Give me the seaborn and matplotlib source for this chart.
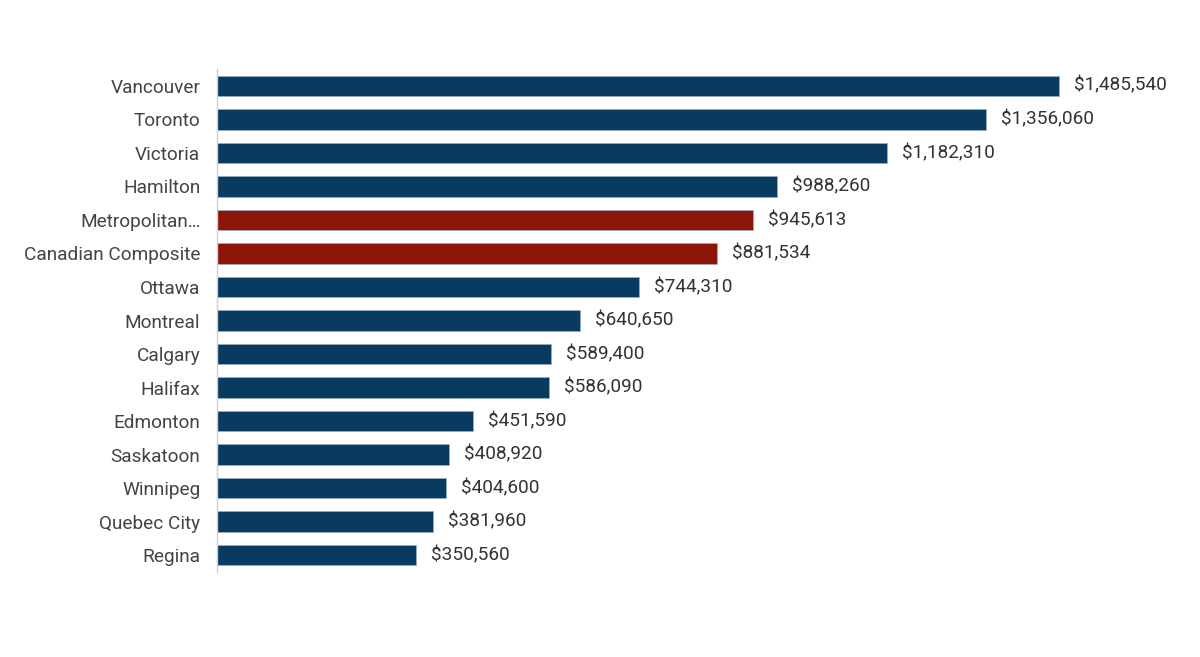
import matplotlib
matplotlib.use("Agg")
import matplotlib.pyplot as plt
import seaborn as sns
import pandas as pd

cities = ["Vancouver", "Toronto", "Victoria", "Hamilton", "Metropolitan…",
          "Canadian Composite", "Ottawa", "Montreal", "Calgary", "Halifax",
          "Edmonton", "Saskatoon", "Winnipeg", "Quebec City", "Regina"]
prices = [1485540, 1356060, 1182310, 988260, 945613, 881534, 744310, 640650,
          589400, 586090, 451590, 408920, 404600, 381960, 350560]
highlight = ["Metropolitan…", "Canadian Composite"]

NAVY = "#093a5f"
RED = "#8c1408"

df = pd.DataFrame({"city": cities, "price": prices})
df["kind"] = ["hl" if c in highlight else "base" for c in cities]

sns.set_theme(style="white")
plt.rcParams["font.family"] = ["Roboto", "DejaVu Sans"]

fig = plt.figure(figsize=(12, 6.57), dpi=100)
W, H = 1200, 657
left_px, right_px = 217, 1170
top_px, bot_px = 69, 572
ax = fig.add_axes([left_px / W, 1 - bot_px / H, (right_px - left_px) / W, (bot_px - top_px) / H])

sns.barplot(data=df, x="price", y="city", hue="kind", order=cities,
            palette={"base": NAVY, "hl": RED}, width=0.61, dodge=False,
            saturation=1, legend=False, ax=ax, edgecolor="#9fb0c2", linewidth=0.5)

scale = (1059 - left_px) / prices[0]
ax.set_xlim(0, (right_px - left_px) / scale)
ax.set_ylim(len(cities) - 0.5, -0.5)

for i, v in enumerate(prices):
    ax.text(v + 15 / scale, i, f"${v:,}", va="center", ha="left",
            fontsize=13.7, color="#333333")

ax.set_xlabel("")
ax.set_ylabel("")
ax.set_xticks([])
ax.tick_params(axis="y", length=0, pad=12, labelsize=13.7, labelcolor="#444444")
for s in ["top", "right", "bottom"]:
    ax.spines[s].set_visible(False)
ax.spines["left"].set_color("#d0d0d0")
ax.spines["left"].set_linewidth(1.0)

fig.savefig("out.png", dpi=100, facecolor="white")
